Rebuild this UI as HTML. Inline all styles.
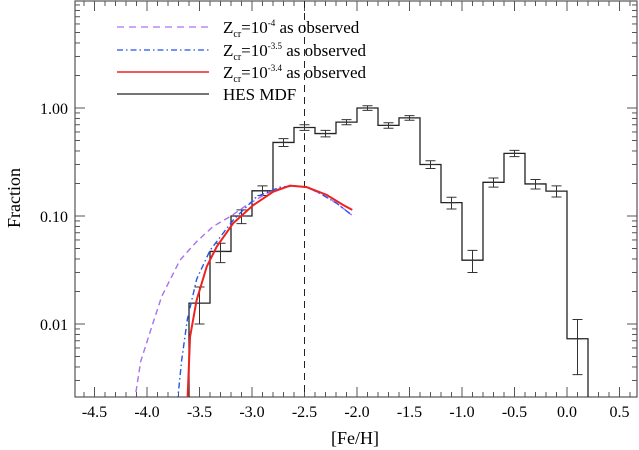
<!DOCTYPE html>
<html><head><meta charset="utf-8"><style>
html,body{margin:0;padding:0;background:#fff}
svg{display:block;font-family:"Liberation Serif",serif}
</style></head><body>
<svg id="chart" width="639" height="450" viewBox="0 0 639 450" xmlns="http://www.w3.org/2000/svg">
<g id="axes"></g>
<g id="marks"></g>
<text x="0" y="0" transform="translate(20,198) rotate(-90)" text-anchor="middle" font-size="18">Fraction</text>
<text x="355" y="444" text-anchor="middle" font-size="18">[Fe/H]</text>
<g font-size="17">
 <line x1="117" y1="27" x2="209" y2="27" stroke="#a970f0" stroke-width="1.3" stroke-dasharray="7,5"/>
 <text x="223" y="33">Z<tspan font-size="10" dy="4">cr</tspan><tspan dy="-4">=10</tspan><tspan font-size="9" dy="-7">-4</tspan><tspan dy="7"> as observed</tspan></text>
 <line x1="117" y1="50" x2="209" y2="50" stroke="#2255ee" stroke-width="1.3" stroke-dasharray="6,3,1.5,3"/>
 <text x="223" y="56">Z<tspan font-size="10" dy="4">cr</tspan><tspan dy="-4">=10</tspan><tspan font-size="9" dy="-7">-3.5</tspan><tspan dy="7"> as observed</tspan></text>
 <line x1="117" y1="72" x2="209" y2="72" stroke="#ee2222" stroke-width="1.6"/>
 <text x="223" y="78">Z<tspan font-size="10" dy="4">cr</tspan><tspan dy="-4">=10</tspan><tspan font-size="9" dy="-7">-3.4</tspan><tspan dy="7"> as observed</tspan></text>
 <line x1="117" y1="94" x2="209" y2="94" stroke="#222" stroke-width="1.2"/>
 <text x="223" y="100">HES MDF</text>
</g>
</svg>
<script>
const binEdges=[-3.6,-3.4,-3.2,-3.0,-2.8,-2.6,-2.4,-2.2,-2.0,-1.8,-1.6,-1.4,-1.2,-1.0,-0.8,-0.6,-0.4,-0.2,0.0,0.2];
const hesValues=[0.0156,0.047,0.10,0.171,0.48,0.66,0.58,0.74,1.0,0.69,0.81,0.30,0.133,0.039,0.205,0.38,0.198,0.17,0.0073];
const hesErrHigh=[0.022,0.056,0.114,0.19,0.52,0.70,0.62,0.78,1.05,0.73,0.85,0.325,0.149,0.048,0.225,0.405,0.218,0.19,0.011];
const hesErrLow=[0.010,0.037,0.085,0.155,0.44,0.62,0.54,0.70,0.95,0.65,0.77,0.275,0.116,0.030,0.185,0.355,0.178,0.15,0.0034];
const redFeh=[-3.615,-3.59,-3.527,-3.431,-3.336,-3.178,-2.988,-2.797,-2.638,-2.479,-2.289,-2.13,-2.045];
const redVal=[0.0019,0.0076,0.0167,0.034,0.052,0.086,0.126,0.168,0.191,0.185,0.157,0.126,0.114];
const blueFeh=[-3.71,-3.67,-3.616,-3.527,-3.4,-3.178,-2.955,-2.733,-2.6,-2.48,-2.352,-2.193,-2.05];
const blueVal=[0.0019,0.0046,0.011,0.026,0.048,0.092,0.151,0.185,0.19,0.185,0.162,0.131,0.102];
const purpleFeh=[-4.12,-4.06,-3.955,-3.86,-3.686,-3.527,-3.37,-3.2,-3.05,-2.86,-2.7,-2.6,-2.48,-2.352,-2.193,-2.05];
const purpleVal=[0.0019,0.0045,0.0094,0.018,0.039,0.058,0.08,0.1,0.126,0.162,0.185,0.19,0.185,0.162,0.131,0.102];
const xTicks=[-4.5,-4.0,-3.5,-3.0,-2.5,-2.0,-1.5,-1.0,-0.5,0.0,0.5];
const xTickLabels=["-4.5","-4.0","-3.5","-3.0","-2.5","-2.0","-1.5","-1.0","-0.5","0.0","0.5"];
const yTicks=[1,0.1,0.01];
const yTickLabels=["1.00","0.10","0.01"];
const divider=-2.5;

const L=75,R=637,T=1,B=397;
const X=v=>252+(v+3)*105;
const Y=v=>108-Math.log10(v)*108;
const NS="http://www.w3.org/2000/svg";
function mk(tag,parent,attrs){const e=document.createElementNS(NS,tag);for(const k in attrs)e.setAttribute(k,attrs[k]);parent.appendChild(e);return e;}
const axes=document.getElementById('axes'),marks=document.getElementById('marks');
const frame=mk('rect',axes,{x:L,y:T,width:R-L,height:B-T,fill:'none',stroke:'#555','stroke-width':1.2});


for(let i=-46;i<=6;i++){const v=i/10,x=X(v);if(x<L||x>R)continue;const maj=(i%5===0);const len=maj?10:5;
 mk('line',axes,{x1:x,y1:B,x2:x,y2:B-len,stroke:'#555'});mk('line',axes,{x1:x,y1:T,x2:x,y2:T+len,stroke:'#555'});}
xTicks.forEach((v,i)=>{const t=mk('text',axes,{x:X(v),y:417,'text-anchor':'middle','font-size':16});t.textContent=xTickLabels[i];
 
 });
for(let d=-3;d<=1;d++){for(let m=1;m<=9;m++){const v=m*Math.pow(10,d),y=Y(v);if(y<T||y>B)continue;const len=m===1?10:5;
 mk('line',axes,{x1:L,y1:y,x2:L+len,y2:y,stroke:'#555'});mk('line',axes,{x1:R,y1:y,x2:R-len,y2:y,stroke:'#555'});}}
yTicks.forEach((v,i)=>{const t=mk('text',axes,{x:68,y:Y(v)+6,'text-anchor':'end','font-size':16});t.textContent=yTickLabels[i];
 
 });
const defs=mk('defs',marks,{});const cp=mk('clipPath',defs,{id:'clip'});mk('rect',cp,{x:L,y:T,width:R-L,height:B-T});
const g=mk('g',marks,{'clip-path':'url(#clip)'});
const dl=mk('line',g,{x1:X(divider),y1:T,x2:X(divider),y2:B,stroke:'#222','stroke-dasharray':'7,5'});


let d=`M${X(binEdges[0])},${B+5}`;
hesValues.forEach((v,i)=>{d+=` L${X(binEdges[i])},${Y(v)} L${X(binEdges[i+1])},${Y(v)}`;});
d+=` L${X(binEdges[binEdges.length-1])},${B+5}`;
const h=mk('path',g,{d,fill:'none',stroke:'#222','stroke-width':1.3});


hesValues.forEach((v,i)=>{const cx=(X(binEdges[i])+X(binEdges[i+1]))/2,y1=Y(hesErrHigh[i]),y2=Y(hesErrLow[i]);
 const e=mk('path',g,{d:`M${cx},${y1} L${cx},${y2} M${cx-5},${y1} L${cx+5},${y1} M${cx-5},${y2} L${cx+5},${y2} M${cx-5},${Y(v)} L${cx+5},${Y(v)}`,stroke:'#333','stroke-width':1,fill:'none'});
 
 });
function curve(fx,vy,attrs,name){const p=fx.map((f,i)=>`${i?'L':'M'}${X(f)},${Y(vy[i])}`).join(' ');
 const e=mk('path',g,Object.assign({d:p,fill:'none'},attrs));
 
 }
curve(purpleFeh,purpleVal,{stroke:'#a970f0','stroke-width':1.4,'stroke-dasharray':'6,4'},'curve-zcr-4');
curve(blueFeh,blueVal,{stroke:'#2255ee','stroke-width':1.4,'stroke-dasharray':'6,3,1.5,3'},'curve-zcr-3.5');
curve(redFeh,redVal,{stroke:'#ee2222','stroke-width':2},'curve-zcr-3.4');
</script>
</body></html>
